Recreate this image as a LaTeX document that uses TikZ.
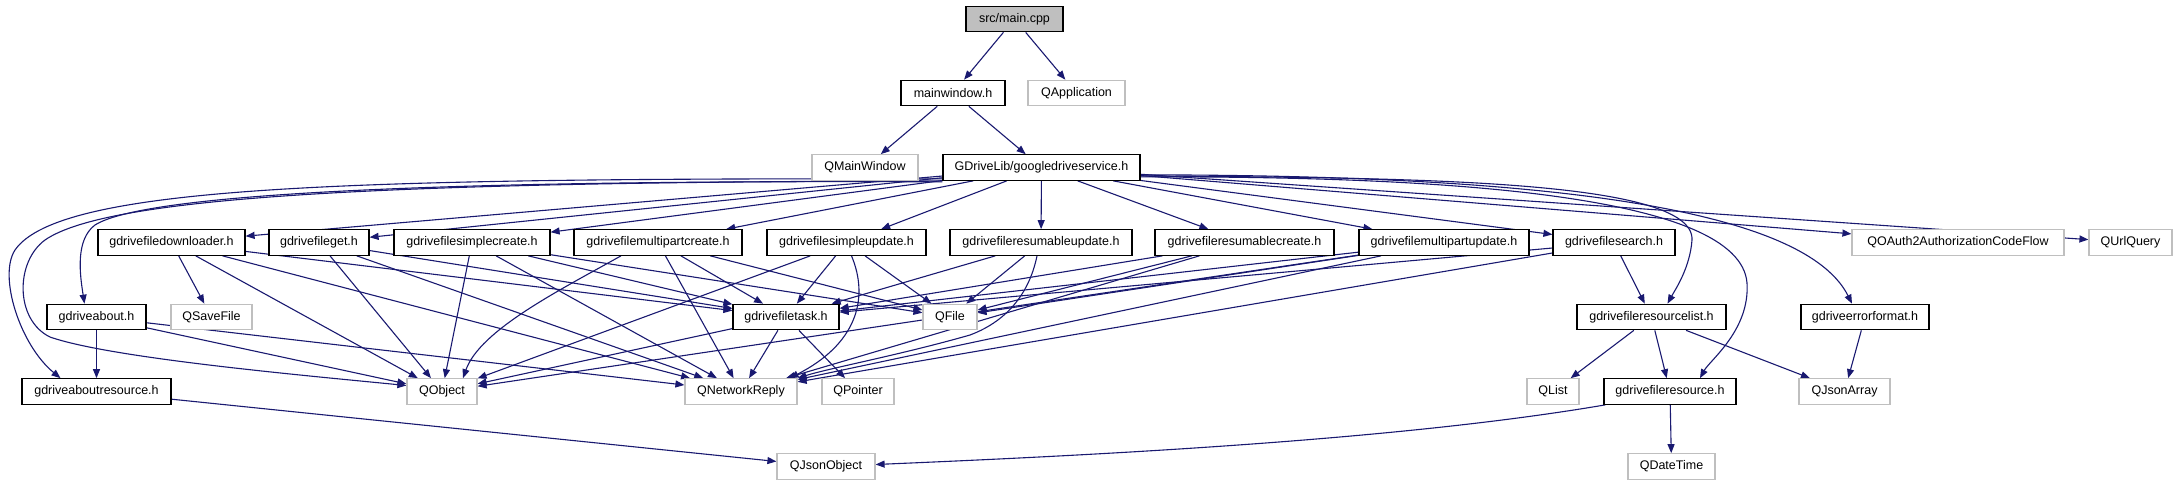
\documentclass[tikz,border=0pt]{standalone}
\usepackage{fontspec}
\setmainfont{Liberation Sans}
\usetikzlibrary{arrows.meta,backgrounds}
\definecolor{edgecol}{HTML}{191970}
\definecolor{greyline}{HTML}{BFBFBF}
\tikzset{
  box/.style={rectangle, inner sep=0pt, minimum height=25.5pt, fill=white,
    font=\fontsize{12.5}{14}\selectfont, line width=1.2pt},
  doc/.style={box, draw=black},
  ext/.style={box, draw=greyline},
  root/.style={box, draw=black, fill=greyline},
  dep/.style={draw=edgecol, line width=1.1pt, -{Triangle[length=9pt,width=7pt]}}
}
\begin{document}
\begin{tikzpicture}[x=1pt,y=-1pt]
\useasboundingbox (0,0) rectangle (2174,485);
% row 1
\node[root, minimum width=97pt] (main) at (1014.5,19) {src/main.cpp};
% row 2
\node[doc, minimum width=104pt] (mainwindow) at (953,93) {mainwindow.h};
\node[ext, minimum width=97pt] (qapp) at (1076.5,93) {QApplication};
% row 3
\node[ext, minimum width=106pt] (qmainwindow) at (865,167.5) {QMainWindow};
\node[doc, minimum width=197pt] (gds) at (1041.5,167.5) {GDriveLib/googledriveservice.h};
% row 4
\node[doc, minimum width=147pt] (dl) at (171.5,242.5) {gdrivefiledownloader.h};
\node[doc, minimum width=100pt] (get) at (319,242.5) {gdrivefileget.h};
\node[doc, minimum width=156pt] (screate) at (472,242.5) {gdrivefilesimplecreate.h};
\node[doc, minimum width=168pt] (mcreate) at (658,242.5) {gdrivefilemultipartcreate.h};
\node[doc, minimum width=159pt] (supdate) at (846.5,242.5) {gdrivefilesimpleupdate.h};
\node[doc, minimum width=182pt] (rupdate) at (1041,242.5) {gdrivefileresumableupdate.h};
\node[doc, minimum width=179pt] (rcreate) at (1244.5,242.5) {gdrivefileresumablecreate.h};
\node[doc, minimum width=170pt] (mupdate) at (1444,242.5) {gdrivefilemultipartupdate.h};
\node[doc, minimum width=122pt] (search) at (1614,242.5) {gdrivefilesearch.h};
\node[ext, minimum width=212pt] (oauth) at (1958,242.5) {QOAuth2AuthorizationCodeFlow};
\node[ext, minimum width=83pt] (urlq) at (2130.5,242.5) {QUrlQuery};
% row 5
\node[doc, minimum width=99pt] (about) at (96.5,317) {gdriveabout.h};
\node[ext, minimum width=81pt] (savefile) at (211.5,317) {QSaveFile};
\node[doc, minimum width=106pt] (task) at (786,317) {gdrivefiletask.h};
\node[ext, minimum width=54pt] (qfile) at (950,317) {QFile};
\node[doc, minimum width=149pt] (rlist) at (1651.5,317) {gdrivefileresourcelist.h};
\node[doc, minimum width=128pt] (errfmt) at (1865,317) {gdriveerrorformat.h};
% row 6
\node[doc, minimum width=149pt] (aboutres) at (96.5,391.5) {gdriveaboutresource.h};
\node[ext, minimum width=70pt] (qobject) at (442,391.5) {QObject};
\node[ext, minimum width=112pt] (qnet) at (741,391.5) {QNetworkReply};
\node[ext, minimum width=72pt] (qpointer) at (858,391.5) {QPointer};
\node[ext, minimum width=52pt] (qlist) at (1553,391.5) {QList};
\node[doc, minimum width=132pt] (resource) at (1670,391.5) {gdrivefileresource.h};
\node[ext, minimum width=91pt] (qjsonarray) at (1844.5,391.5) {QJsonArray};
% row 7
\node[ext, minimum width=98pt] (qjsonobject) at (826,466.5) {QJsonObject};
\node[ext, minimum width=87pt] (qdatetime) at (1671.5,466.5) {QDateTime};

\begin{scope}[on background layer]
\draw[dep] (main) -- (mainwindow);
\draw[dep] (main) -- (qapp);
\draw[dep] (mainwindow) -- (qmainwindow);
\draw[dep] (mainwindow) -- (gds);
% googledriveservice
\foreach \t in {dl,get,screate,mcreate,supdate,rupdate,rcreate,mupdate,search,oauth,urlq}
  \draw[dep] (gds) -- (\t);
\draw[dep] ([yshift=-1pt]gds.south west) .. controls (500,180) and (150,190) .. (95,225)
  .. controls (75,240) and (80,275) .. ([xshift=-12pt]about.north);
\draw[dep] ([yshift=2pt]gds.south west) .. controls (350,178) and (60,185) .. (15,250)
  .. controls (-2,276) and (20,345) .. ([xshift=-36pt]aboutres.north);
\draw[dep] (gds.south west) .. controls (400,182) and (110,195) .. (45,240)
  .. controls (15,262) and (15,320) .. (50,337)
  .. controls (110,358) and (300,375) .. ([yshift=6pt]qobject.west);
\draw[dep] ([yshift=5pt]gds.south east) .. controls (1400,178) and (1695,178) .. (1692,240)
  .. controls (1690,268) and (1675,290) .. ([xshift=16pt]rlist.north);
\draw[dep] ([yshift=4pt]gds.south east) .. controls (1450,176) and (1740,195) .. (1747,283)
  .. controls (1750,330) and (1710,360) .. ([xshift=30pt]resource.north);
\draw[dep] ([yshift=6pt]gds.south east) .. controls (1500,175) and (1800,200) .. ([xshift=-13pt]errfmt.north);
% row 4 sources
\foreach \t in {savefile,qobject,qnet,task} \draw[dep] (dl) -- (\t);
\foreach \t in {qobject,qnet,task} \draw[dep] (get) -- (\t);
\foreach \t in {qobject,qnet,task,qfile} \draw[dep] (screate) -- (\t);
\foreach \t in {qnet,task,qfile} \draw[dep] (mcreate) -- (\t);
\draw[dep] ([xshift=-37pt]mcreate.south) .. controls (560,290) and (480,330) .. ([xshift=21pt]qobject.north);
\foreach \t in {qobject,task,qfile} \draw[dep] (supdate) -- (\t);
\draw[dep] ([xshift=5pt]supdate.south) .. controls (870,300) and (855,345) .. ([xshift=-8pt]qnet.north east);
\foreach \t in {task,qfile} \draw[dep] (rupdate) -- (\t);
\draw[dep] ([xshift=-4pt]rupdate.south) .. controls (1030,290) and (1010,320) .. (970,335)
  .. controls (900,355) and (830,368) .. (qnet.north east);
\foreach \t in {task,qfile,qnet} \draw[dep] (rcreate) -- (\t);
\foreach \t in {task,qfile,qnet,qobject} \draw[dep] (mupdate) -- (\t);
\foreach \t in {task,qnet,rlist} \draw[dep] (search) -- (\t);
% row 5 sources
\foreach \t in {qobject,qnet,qpointer} \draw[dep] (task) -- (\t);
\foreach \t in {aboutres,qobject,qnet} \draw[dep] (about) -- (\t);
\foreach \t in {qlist,resource,qjsonarray} \draw[dep] (rlist) -- (\t);
\draw[dep] (errfmt) -- (qjsonarray);
% row 6 sources
\draw[dep] (aboutres) -- (qjsonobject);
\draw[dep] (resource) -- (qdatetime);
\draw[dep] ([xshift=2pt]resource.south west) .. controls (1400,440) and (1100,455) .. ([yshift=2pt]qjsonobject.east);
\end{scope}
\end{tikzpicture}
\end{document}
